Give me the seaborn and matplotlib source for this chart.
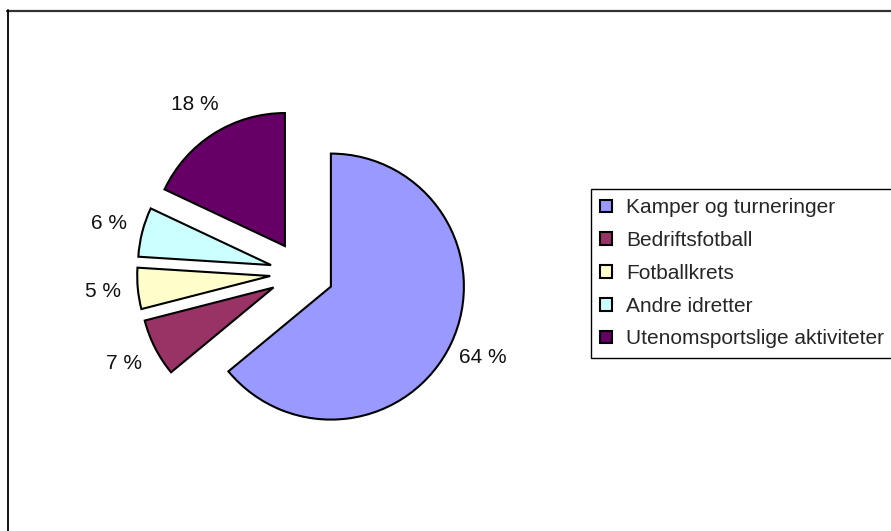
import numpy as np
import pandas as pd
import matplotlib
matplotlib.use("Agg")
import matplotlib.pyplot as plt
from matplotlib.patches import Patch
from matplotlib.lines import Line2D
import seaborn as sns

# Data
categories = ["Kamper og turneringer", "Bedriftsfotball", "Fotballkrets",
              "Andre idretter", "Utenomsportslige aktiviteter"]
shares = [64, 7, 5, 6, 18]
colors = ["#9999FF", "#993366", "#FFFFCC", "#CCFFFF", "#660066"]

df = pd.DataFrame({"kategori": categories, "andel": shares, "farge": colors})

sns.set_theme(style="white")
plt.rcParams["font.family"] = ["Liberation Sans", "DejaVu Sans"]

W, H = 891, 531
fig = plt.figure(figsize=(W / 100, H / 100), dpi=100)
fig.patch.set_facecolor("white")

# pie centre ~ (302, 273) px, radius ~133 px
cx, cy, r_px, half = 302, 273, 133, 200
ax = fig.add_axes([(cx - half) / W, (H - cy - half) / H, 2 * half / W, 2 * half / H])
lim = half / r_px
ax.set_xlim(-lim, lim)
ax.set_ylim(-lim, lim)
ax.set_aspect("equal")
ax.axis("off")

wedges, _, pct_texts = ax.pie(
    df["andel"], colors=df["farge"], startangle=90, counterclock=False,
    explode=[0.24] * len(df), radius=1.0, autopct=lambda p: f"{round(p)} %",
    pctdistance=1.26, frame=False,
    wedgeprops=dict(edgecolor="black", linewidth=1.5),
    textprops=dict(fontsize=15, color="#111111"))
ax.set_xlim(-lim, lim)
ax.set_ylim(-lim, lim)

handles = [Patch(facecolor=c, edgecolor="black", linewidth=1.5) for c in df["farge"]]
leg = fig.legend(handles, df["kategori"], loc="upper left",
                 bbox_to_anchor=(591 / W, 1 - 189 / H), borderaxespad=0,
                 fontsize=15, frameon=True, fancybox=False, framealpha=1,
                 edgecolor="black", handlelength=0.57, handleheight=0.57,
                 handletextpad=0.65, labelspacing=0.66, borderpad=0.45)
leg.get_frame().set_linewidth(1.0)

# chart area border (only top and left visible)
fig.add_artist(Line2D([7 / W, 1], [1 - 10.5 / H] * 2, transform=fig.transFigure,
                      color="#333333", linewidth=1.6))
fig.add_artist(Line2D([7.5 / W] * 2, [0, 1 - 10 / H], transform=fig.transFigure,
                      color="black", linewidth=1.3))

fig.savefig("out.png", dpi=100)
